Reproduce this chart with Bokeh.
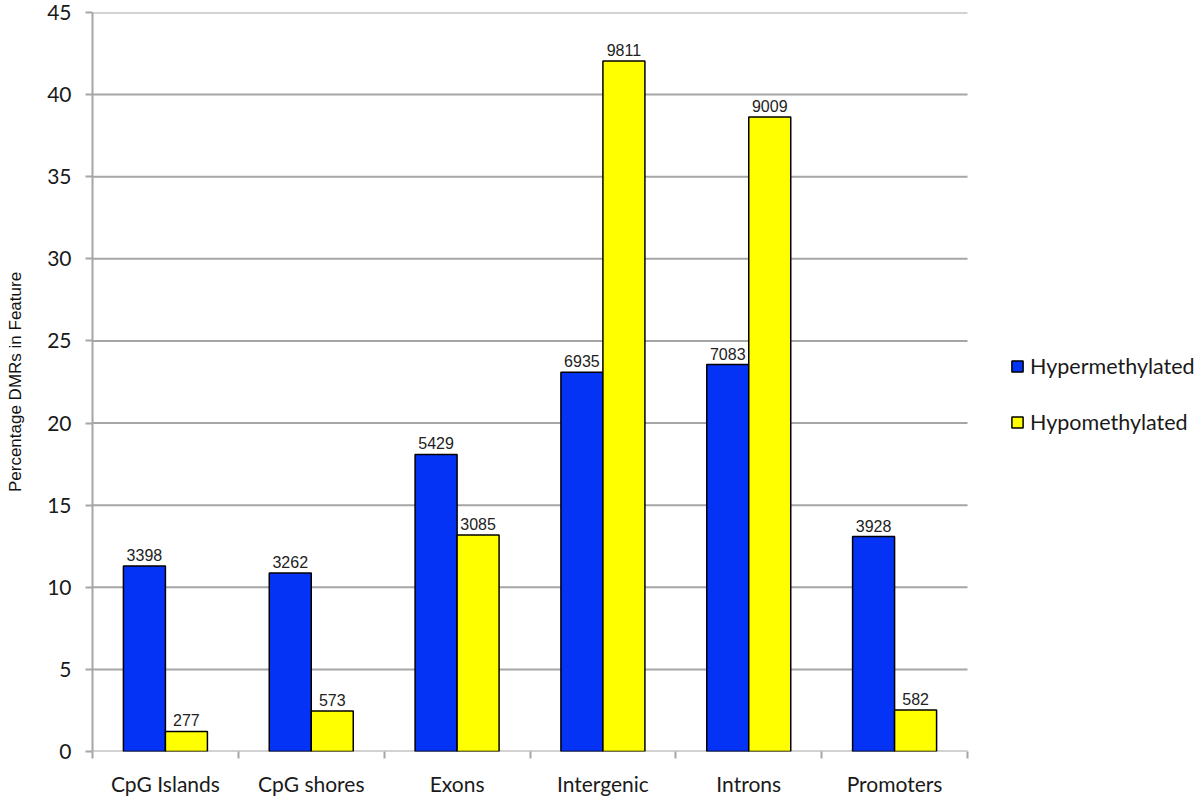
import numpy as np
from bokeh.plotting import figure
from bokeh.models import ColumnDataSource, FixedTicker, Legend, LegendItem, Range1d
from bokeh.core.properties import value
from bokeh.embed import file_html
from bokeh.resources import INLINE

categories = ["CpG Islands", "CpG shores", "Exons", "Intergenic", "Introns", "Promoters"]
hyper_pct = [11.30, 10.87, 18.09, 23.09, 23.56, 13.09]
hypo_pct = [1.22, 2.46, 13.19, 42.05, 38.64, 2.52]
hyper_counts = ["3398", "3262", "5429", "6935", "7083", "3928"]
hypo_counts = ["277", "573", "3085", "9811", "9009", "582"]
y_ticks = [0, 5, 10, 15, 20, 25, 30, 35, 40, 45]

BLUE = "#0533f5"
YELLOW = "#ffff00"
GRID = "#a6a6a6"
BAR_W = 0.288

W, H = 1200, 799
LEFT, PLOT_W = 92, 875            # plotting area of the bars (pixels)
n = len(categories)
x_end = n * (W - LEFT) / PLOT_W    # frame extends to the right edge, legend lives there

centers = np.arange(n) + 0.5
src = ColumnDataSource(dict(
    xh=centers - BAR_W / 2, xl=centers + BAR_W / 2,
    hyper=hyper_pct, hypo=hypo_pct,
    hc=hyper_counts, lc=hypo_counts,
))

p = figure(width=W, height=H, output_backend="svg", toolbar_location=None,
           x_range=Range1d(0, x_end), y_range=Range1d(0, 45),
           min_border_left=LEFT, min_border_right=0, min_border_top=12, min_border_bottom=48)
p.outline_line_color = None
p.background_fill_color = "white"

# horizontal gridlines limited to the category area
p.segment(x0=[0] * len(y_ticks), x1=[n] * len(y_ticks), y0=y_ticks, y1=y_ticks,
          line_color=GRID, line_width=2)

r1 = p.vbar(x="xh", top="hyper", width=BAR_W, source=src, fill_color=BLUE,
            line_color="black", line_width=1.5)
r2 = p.vbar(x="xl", top="hypo", width=BAR_W, source=src, fill_color=YELLOW,
            line_color="black", line_width=1.5)

lab_font = value("Liberation Sans")
p.text(x="xh", y="hyper", text="hc", source=src, text_align="center",
       text_baseline="alphabetic", y_offset=-11, text_font=lab_font,
       text_font_size="16px", text_color="#222222")
p.text(x="xl", y="hypo", text="lc", source=src, text_align="center",
       text_baseline="alphabetic", y_offset=-11, text_font=lab_font,
       text_font_size="16px", text_color="#222222")

p.xgrid.visible = False
p.ygrid.visible = False

# y axis
ya = p.yaxis[0]
ya.ticker = FixedTicker(ticks=y_ticks, minor_ticks=[])
ya.axis_line_color = GRID
ya.axis_line_width = 2
ya.major_tick_line_color = GRID
ya.major_tick_line_width = 2
ya.major_tick_out = 7
ya.major_tick_in = 0
ya.minor_tick_line_color = None
ya.major_label_text_font = "Lato"
ya.major_label_text_font_size = "21px"
ya.major_label_text_color = "#1a1a1a"
ya.major_label_standoff = 14
ya.axis_label = "Percentage DMRs in Feature"
ya.axis_label_text_font = "Liberation Sans"
ya.axis_label_text_font_size = "17px"
ya.axis_label_text_font_style = "normal"
ya.axis_label_text_color = "#111111"
ya.axis_label_standoff = 19

# x axis: labels at centres, separator ticks at boundaries
xa = p.xaxis[0]
xa.ticker = FixedTicker(ticks=list(centers), minor_ticks=list(range(n + 1)))
xa.major_label_overrides = {float(c): cat for c, cat in zip(centers, categories)}
xa.axis_line_color = None
xa.major_tick_line_color = None
xa.major_tick_out = 7
xa.major_tick_in = 0
xa.minor_tick_line_color = GRID
xa.minor_tick_line_width = 2
xa.minor_tick_out = 7
xa.minor_tick_in = 0
xa.major_label_text_font = "Lato"
xa.major_label_text_font_size = "21px"
xa.major_label_text_color = "#1a1a1a"
xa.major_label_standoff = 12

legend = Legend(items=[LegendItem(label="Hypermethylated", renderers=[r1]),
                       LegendItem(label="Hypomethylated", renderers=[r2])],
                location=(918, 316), orientation="vertical")
legend.border_line_color = None
legend.background_fill_alpha = 0
legend.padding = 0
legend.margin = 0
legend.spacing = 30
legend.glyph_width = 14
legend.glyph_height = 14
legend.label_height = 20
legend.label_standoff = 6
legend.label_text_font = "Lato"
legend.label_text_font_size = "21.5px"
legend.label_text_color = "#1a1a1a"
p.add_layout(legend, "center")

open("out.html", "w").write(file_html(p, INLINE))
